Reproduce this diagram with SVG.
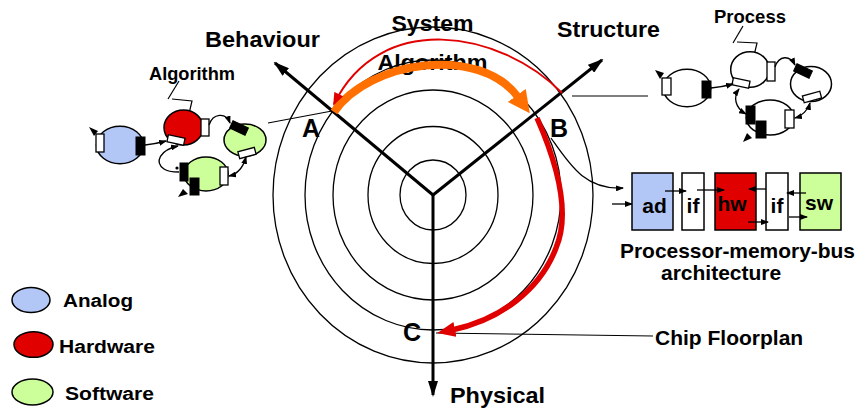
<svg xmlns="http://www.w3.org/2000/svg" width="859" height="412" viewBox="0 0 859 412">
<style>
text{font-family:"Liberation Sans",Arial,sans-serif;font-weight:bold;fill:#000}
.ring{fill:none;stroke:#000;stroke-width:1.3}
.axis{fill:none;stroke:#000;stroke-width:3}
.thin{fill:none;stroke:#000;stroke-width:1.2}
.con{fill:none;stroke:#000;stroke-width:1.3}
.blob{stroke:#000;stroke-width:1.5}
.w{fill:#fff;stroke:#000;stroke-width:1.3}
.b{fill:#000;stroke:#000;stroke-width:1}
.blue{fill:#B3C7F7}.red{fill:#E00000}.green{fill:#CCFF99}.white{fill:#fff}
.big{font-size:22px}
.mid{font-size:21px}
.sm{font-size:18px}
.let{font-size:25px}
</style>
<defs>
<marker id="ax" markerUnits="userSpaceOnUse" markerWidth="16" markerHeight="10" refX="14" refY="5" orient="auto"><path d="M0,0 L16,5 L0,10 z" fill="#000"/></marker>
<marker id="sm" markerUnits="userSpaceOnUse" markerWidth="8" markerHeight="6" refX="7" refY="3" orient="auto-start-reverse"><path d="M0,0 L8,3 L0,6 z" fill="#000"/></marker>
<marker id="or" markerUnits="userSpaceOnUse" markerWidth="22" markerHeight="22" refX="2" refY="11" orient="auto"><path d="M0,0 L22,11 L0,22 z" fill="#FF7000"/></marker>
<marker id="rt" markerUnits="userSpaceOnUse" markerWidth="13" markerHeight="10" refX="11" refY="5" orient="auto"><path d="M0,0 L13,5 L0,10 z" fill="#E00000"/></marker>
<marker id="rk" markerUnits="userSpaceOnUse" markerWidth="18" markerHeight="15" refX="3" refY="7.5" orient="auto"><path d="M0,0 L18,7.5 L0,15 z" fill="#E00000"/></marker>
</defs>

<g id="level-labels">
<text class="big" x="432.5" y="31" text-anchor="middle" textLength="82" lengthAdjust="spacingAndGlyphs">System</text>
<text class="big" x="432.5" y="70" text-anchor="middle" textLength="110" lengthAdjust="spacingAndGlyphs">Algorithm</text>
</g>

<g id="rings">
<ellipse class="ring" cx="433" cy="195" rx="33" ry="35"/>
<ellipse class="ring" cx="433" cy="195" rx="65" ry="68.5"/>
<ellipse class="ring" cx="433" cy="195" rx="100" ry="105"/>
<ellipse class="ring" cx="433" cy="195" rx="128" ry="135"/>
<ellipse class="ring" cx="433" cy="195" rx="160" ry="168"/>
</g>

<g id="axes">
<line class="axis" x1="433" y1="195" x2="275" y2="63" marker-end="url(#ax)"/>
<line class="axis" x1="433" y1="195" x2="602" y2="60" marker-end="url(#ax)"/>
<line class="axis" x1="433" y1="195" x2="433" y2="395" marker-end="url(#ax)"/>
<text class="big" x="205" y="47" textLength="115" lengthAdjust="spacingAndGlyphs">Behaviour</text>
<text class="big" x="557" y="37" textLength="103" lengthAdjust="spacingAndGlyphs">Structure</text>
<text class="big" x="450" y="403" textLength="95" lengthAdjust="spacingAndGlyphs">Physical</text>
<text class="let" x="302" y="137">A</text>
<text class="let" x="550" y="137">B</text>
<text class="let" x="403" y="341">C</text>
</g>

<g id="connectors">
<line class="thin" x1="268" y1="123" x2="332" y2="111"/>
<line class="thin" x1="572" y1="96" x2="648" y2="96"/>
<line class="thin" x1="436" y1="333" x2="653" y2="336"/>
<path class="con" d="M551 138 C570 165,585 190,623 188" marker-end="url(#sm)"/>
<line class="con" x1="612" y1="204" x2="632" y2="204" marker-end="url(#sm)"/>
<path d="M334 112 C370 60,480 45,518 97" fill="none" stroke="#FF7000" stroke-width="8" marker-end="url(#or)"/>
<path d="M562 93 C500 30,380 10,334 104" fill="none" stroke="#E00000" stroke-width="2" marker-end="url(#rt)"/>
<path d="M537 118 C560 170,570 215,556 248 C540 290,500 320,452 330" fill="none" stroke="#E00000" stroke-width="5.5" marker-end="url(#rk)"/>
</g>

<g id="chip-floorplan">
<text class="mid" x="655" y="345">Chip Floorplan</text>
</g>

<g id="algorithm-graph">
<text class="sm" x="149" y="80" textLength="86" lengthAdjust="spacingAndGlyphs">Algorithm</text>
<polyline class="thin" points="179,81 168,99"/>
<polyline class="thin" points="172,99 192,101 188,118"/>
<g id="alg-analog">
<ellipse class="blob blue" cx="120" cy="145" rx="23.5" ry="18.7"/>
<rect class="w" x="96" y="134" width="8" height="18"/>
<rect class="b" x="136" y="137" width="9" height="18"/>
<polygon points="89,127 98,131 94,136" fill="#000"/>
</g>
<g id="alg-hardware">
<ellipse class="blob red" cx="183.5" cy="127.5" rx="19.5" ry="17.5"/>
<rect class="w" x="201" y="119" width="8" height="17"/>
<rect class="w" x="-8.5" y="-3.5" width="17" height="7" transform="translate(176 140) rotate(12)"/>
</g>
<g id="alg-software-1">
<ellipse class="blob green" cx="245" cy="140" rx="21" ry="16"/>
<rect class="b" x="-8.5" y="-4" width="17" height="8" transform="translate(239 128) rotate(25)"/>
<rect class="w" x="-8.5" y="-3.5" width="17" height="7" transform="translate(247 153) rotate(-15)"/>
</g>
<g id="alg-software-2">
<ellipse class="blob green" cx="206" cy="174" rx="22" ry="17"/>
<rect class="b" x="180" y="163" width="8" height="18"/>
<rect class="b" x="190" y="178" width="9" height="17"/>
<rect class="w" x="220" y="167" width="8" height="18"/>
<polygon points="178,197 183,189 188,194" fill="#000"/>
</g>
<g id="alg-links">
<path class="con" d="M145 145 Q155 144 166 141" marker-end="url(#sm)"/>
<path class="con" d="M209 125 C213 113,226 112,230 123" marker-end="url(#sm)"/>
<path class="con" d="M178 146 C160 150,154 162,164 169 C168 172,173 172,179 172" marker-start="url(#sm)"/>
<circle cx="177" cy="168" r="1.6" fill="#000"/>
<path class="con" d="M246 157 C243 168,238 174,229 176" marker-start="url(#sm)" marker-end="url(#sm)"/>
</g>
</g>

<g id="process-graph">
<text class="sm" x="714" y="23" textLength="72" lengthAdjust="spacingAndGlyphs">Process</text>
<polyline class="thin" points="743,26 733,43"/>
<polyline class="thin" points="737,42 757,43 753,60"/>
<g id="proc-1">
<ellipse class="blob white" cx="687" cy="88" rx="23.7" ry="18.7"/>
<rect class="w" x="662" y="78" width="9" height="17"/>
<rect class="b" x="702" y="81" width="9" height="17"/>
<polygon points="655,70 664,73 660,79" fill="#000"/>
</g>
<g id="proc-2">
<ellipse class="blob white" cx="750" cy="69.5" rx="19.3" ry="17.8"/>
<rect class="w" x="767" y="62" width="8" height="19"/>
<rect class="w" x="-8.5" y="-3.5" width="17" height="7" transform="translate(741 83) rotate(12)"/>
</g>
<g id="proc-3">
<ellipse class="blob white" cx="811" cy="84" rx="20.5" ry="17.5"/>
<rect class="b" x="-8.5" y="-4" width="17" height="8" transform="translate(803 71) rotate(25)"/>
<rect class="w" x="-9" y="-3.5" width="18" height="7" transform="translate(812 97) rotate(-15)"/>
</g>
<g id="proc-4">
<ellipse class="blob white" cx="770" cy="117.5" rx="23.7" ry="17.5"/>
<rect class="b" x="746" y="106" width="9" height="18"/>
<rect class="b" x="756" y="121" width="10" height="17"/>
<rect class="w" x="785" y="110" width="9" height="18"/>
<polygon points="743,142 747,133 752,138" fill="#000"/>
</g>
<g id="proc-links">
<path class="con" d="M711 88 Q722 87 733 84" marker-end="url(#sm)"/>
<path class="con" d="M775 67 C779 55,790 55,795 65" marker-end="url(#sm)"/>
<path class="con" d="M739 89 C733 97,735 108,746 114" marker-start="url(#sm)" marker-end="url(#sm)"/>
<path class="con" d="M810 103 C808 110,802 116,795 118" marker-start="url(#sm)" marker-end="url(#sm)"/>
</g>
</g>

<g id="pmb-architecture">
<g id="blk-ad"><rect class="blob blue" x="632" y="173" width="41" height="57"/><text class="mid" x="654.5" y="213" text-anchor="middle">ad</text></g>
<g id="blk-if1"><rect class="blob white" x="682" y="173" width="22" height="57"/><text class="mid" x="693" y="213" text-anchor="middle">if</text></g>
<g id="blk-hw"><rect class="blob red" x="715" y="173" width="41" height="57"/><text class="mid" x="732" y="211" text-anchor="middle">hw</text></g>
<g id="blk-if2"><rect class="blob white" x="766" y="173" width="22" height="57"/><text class="mid" x="777" y="213" text-anchor="middle">if</text></g>
<g id="blk-sw"><rect class="blob green" x="800" y="173" width="41" height="57"/><text class="mid" x="819" y="210" text-anchor="middle">sw</text></g>
<line class="con" x1="665" y1="191" x2="686" y2="191" marker-end="url(#sm)"/>
<line class="con" x1="697" y1="190" x2="724" y2="190" marker-end="url(#sm)"/>
<line class="con" x1="766" y1="189" x2="749" y2="189" marker-end="url(#sm)"/>
<line class="con" x1="806" y1="193" x2="787" y2="193" marker-end="url(#sm)"/>
<line class="con" x1="748" y1="222" x2="768" y2="222" marker-end="url(#sm)"/>
<line class="con" x1="789" y1="217" x2="807" y2="217" marker-end="url(#sm)"/>
<text class="mid" x="620" y="258" textLength="235" lengthAdjust="spacingAndGlyphs">Processor-memory-bus</text>
<text class="mid" x="661" y="280">architecture</text>
</g>

<g id="legend">
<g id="leg-analog"><ellipse class="blob blue" cx="31" cy="300" rx="19" ry="12.5"/><text class="sm" x="63" y="307" textLength="70" lengthAdjust="spacingAndGlyphs">Analog</text></g>
<g id="leg-hardware"><ellipse class="blob red" cx="33.5" cy="344.5" rx="19.5" ry="12.8"/><text class="sm" x="59" y="353" textLength="96" lengthAdjust="spacingAndGlyphs">Hardware</text></g>
<g id="leg-software"><ellipse class="blob green" cx="32.5" cy="392" rx="20.5" ry="13"/><text class="sm" x="65" y="400" textLength="89" lengthAdjust="spacingAndGlyphs">Software</text></g>
</g>
</svg>
